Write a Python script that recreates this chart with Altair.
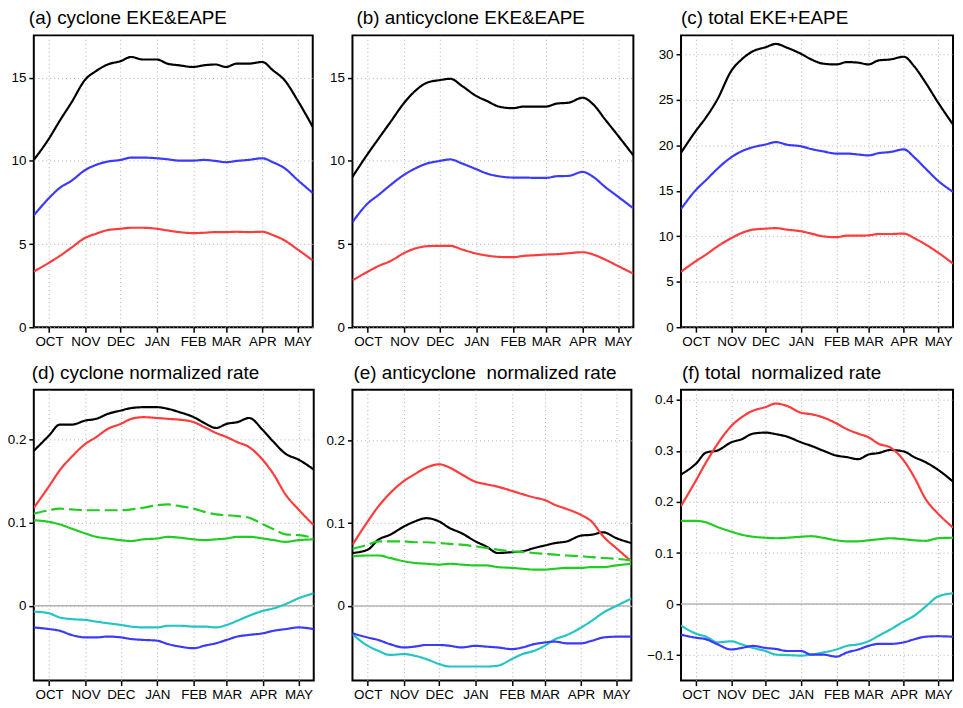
import altair as alt
import pandas as pd

# ---------------- data ----------------
dates = ["2000-09-18", "2000-10-01", "2000-10-10", "2000-10-20", "2000-11-01", "2000-11-10",
         "2000-11-20", "2000-12-01", "2000-12-10", "2000-12-20", "2001-01-01", "2001-01-10",
         "2001-01-20", "2001-02-01", "2001-02-10", "2001-02-20", "2001-03-01", "2001-03-10",
         "2001-03-20", "2001-04-01", "2001-04-10", "2001-04-20", "2001-05-01", "2001-05-14"]

# (a) cyclone EKE&EAPE
a_black = [10.06, 11.35, 12.4, 13.5, 14.9, 15.4, 15.8, 16.0, 16.25, 16.1, 16.1, 15.85, 15.75, 15.65,
           15.75, 15.8, 15.65, 15.85, 15.85, 15.95, 15.45, 14.85, 13.65, 12.05]
a_blue = [6.73, 7.77, 8.37, 8.8, 9.46, 9.76, 9.96, 10.06, 10.2, 10.2, 10.16, 10.1, 10.02, 10.02,
          10.06, 10.0, 9.92, 10.0, 10.06, 10.16, 9.92, 9.56, 8.86, 8.07]
a_red = [3.35, 3.88, 4.28, 4.78, 5.38, 5.62, 5.84, 5.92, 5.98, 5.98, 5.92, 5.82, 5.72, 5.66,
         5.68, 5.72, 5.72, 5.74, 5.72, 5.74, 5.54, 5.22, 4.68, 4.02]

# (b) anticyclone EKE&EAPE
b_black = [9.04, 10.43, 11.33, 12.32, 13.51, 14.2, 14.7, 14.86, 14.94, 14.5, 13.9, 13.6, 13.27, 13.17,
           13.27, 13.27, 13.27, 13.45, 13.5, 13.8, 13.4, 12.5, 11.52, 10.33]
b_blue = [6.32, 7.45, 7.95, 8.54, 9.18, 9.54, 9.84, 10.0, 10.09, 9.84, 9.5, 9.24, 9.08, 9.0,
          9.0, 8.98, 8.98, 9.08, 9.1, 9.34, 9.04, 8.44, 7.85, 7.15]
b_red = [2.82, 3.34, 3.68, 3.97, 4.47, 4.73, 4.87, 4.89, 4.89, 4.67, 4.43, 4.31, 4.23, 4.21,
         4.29, 4.33, 4.37, 4.39, 4.45, 4.51, 4.37, 4.07, 3.68, 3.22]

# (c) total EKE+EAPE
c_black = [19.2, 21.6, 23.1, 25.1, 28.2, 29.45, 30.36, 30.8, 31.16, 30.73, 30.07, 29.45, 29.0, 28.9,
           29.16, 29.1, 28.9, 29.35, 29.45, 29.75, 28.7, 26.9, 24.7, 22.3]
c_blue = [13.0, 15.1, 16.2, 17.45, 18.7, 19.35, 19.8, 20.1, 20.36, 20.07, 19.9, 19.6, 19.35, 19.1,
          19.1, 19.0, 18.9, 19.15, 19.27, 19.56, 18.7, 17.45, 16.1, 14.9]
c_red = [6.1, 7.27, 8.0, 8.9, 9.8, 10.36, 10.73, 10.84, 10.9, 10.73, 10.55, 10.3, 10.0, 9.9,
         10.07, 10.07, 10.1, 10.25, 10.25, 10.3, 9.8, 9.1, 8.2, 7.0]

# (d) cyclone normalized rate
d_black = [0.1865, 0.205, 0.218, 0.218, 0.223, 0.225, 0.231, 0.235, 0.238, 0.239, 0.239, 0.237,
           0.233, 0.227, 0.22, 0.214, 0.219, 0.221, 0.226, 0.211, 0.197, 0.183, 0.176, 0.164]
d_red = [0.118, 0.144, 0.163, 0.179, 0.195, 0.203, 0.213, 0.219, 0.225, 0.227, 0.226, 0.225,
         0.224, 0.221, 0.215, 0.208, 0.203, 0.197, 0.191, 0.175, 0.158, 0.134, 0.116, 0.097]
d_green_dash = [0.111, 0.115, 0.117, 0.116, 0.115, 0.115, 0.115, 0.115, 0.116, 0.118, 0.121, 0.122,
                0.12, 0.117, 0.113, 0.11, 0.109, 0.108, 0.106, 0.098, 0.092, 0.086, 0.085, 0.082]
d_green = [0.103, 0.101, 0.098, 0.093, 0.087, 0.083, 0.081, 0.079, 0.078, 0.08, 0.081, 0.083,
           0.082, 0.08, 0.079, 0.08, 0.081, 0.083, 0.083, 0.081, 0.079, 0.077, 0.079, 0.08]
d_cyan = [-0.007, -0.009, -0.014, -0.016, -0.017, -0.019, -0.021, -0.023, -0.025, -0.026, -0.026, -0.024,
          -0.024, -0.025, -0.025, -0.026, -0.023, -0.018, -0.012, -0.006, -0.003, 0.002, 0.009, 0.015]
d_blue = [-0.026, -0.028, -0.03, -0.035, -0.038, -0.038, -0.037, -0.038, -0.04, -0.041, -0.042, -0.046,
          -0.049, -0.051, -0.048, -0.045, -0.041, -0.037, -0.035, -0.033, -0.03, -0.028, -0.026, -0.028]

# (e) anticyclone normalized rate
e_red = [0.074, 0.102, 0.12, 0.136, 0.151, 0.159, 0.167, 0.171, 0.167, 0.159, 0.15, 0.147,
         0.144, 0.139, 0.135, 0.131, 0.128, 0.122, 0.117, 0.11, 0.102, 0.084, 0.07, 0.054]
e_black = [0.064, 0.068, 0.08, 0.086, 0.096, 0.102, 0.106, 0.102, 0.094, 0.088, 0.078, 0.072,
           0.064, 0.065, 0.066, 0.07, 0.073, 0.076, 0.078, 0.085, 0.086, 0.089, 0.082, 0.076]
e_green_dash = [0.069, 0.074, 0.078, 0.078, 0.078, 0.077, 0.077, 0.076, 0.075, 0.074, 0.072, 0.07,
                0.068, 0.066, 0.065, 0.064, 0.063, 0.062, 0.061, 0.06, 0.059, 0.058, 0.057, 0.055]
e_green = [0.06, 0.061, 0.061, 0.058, 0.054, 0.052, 0.051, 0.05, 0.051, 0.05, 0.049, 0.049,
           0.047, 0.046, 0.045, 0.044, 0.044, 0.045, 0.046, 0.046, 0.047, 0.047, 0.049, 0.051]
e_blue = [-0.033, -0.038, -0.041, -0.046, -0.05, -0.049, -0.047, -0.047, -0.048, -0.05, -0.048, -0.049,
          -0.05, -0.052, -0.05, -0.046, -0.044, -0.043, -0.045, -0.045, -0.042, -0.038, -0.037, -0.037]
e_cyan = [-0.034, -0.048, -0.054, -0.059, -0.058, -0.06, -0.064, -0.07, -0.073, -0.073, -0.073, -0.073,
          -0.072, -0.064, -0.058, -0.054, -0.048, -0.04, -0.035, -0.026, -0.018, -0.008, 0.0, 0.009]

# (f) total normalized rate
f_red = [0.192, 0.242, 0.278, 0.314, 0.349, 0.366, 0.379, 0.386, 0.393, 0.388, 0.375, 0.372,
         0.366, 0.354, 0.343, 0.334, 0.327, 0.314, 0.307, 0.281, 0.249, 0.206, 0.177, 0.15]
f_black = [0.254, 0.275, 0.297, 0.301, 0.317, 0.323, 0.334, 0.336, 0.333, 0.328, 0.317, 0.31,
           0.301, 0.291, 0.288, 0.284, 0.293, 0.296, 0.302, 0.299, 0.288, 0.278, 0.263, 0.24]
f_green = [0.163, 0.163, 0.16, 0.151, 0.142, 0.136, 0.132, 0.13, 0.129, 0.13, 0.132, 0.133,
           0.13, 0.125, 0.123, 0.123, 0.125, 0.127, 0.129, 0.127, 0.125, 0.124, 0.129, 0.13]
f_cyan = [-0.042, -0.058, -0.064, -0.075, -0.073, -0.079, -0.086, -0.092, -0.099, -0.1, -0.101, -0.099,
          -0.095, -0.089, -0.082, -0.079, -0.073, -0.062, -0.05, -0.034, -0.023, -0.005, 0.015, 0.021]
f_blue = [-0.06, -0.066, -0.069, -0.079, -0.089, -0.086, -0.082, -0.086, -0.088, -0.092, -0.092, -0.099,
          -0.099, -0.103, -0.095, -0.089, -0.082, -0.078, -0.078, -0.075, -0.069, -0.064, -0.063, -0.064]

titles = ["(a) cyclone EKE&EAPE", "(b) anticyclone EKE&EAPE", "(c) total EKE+EAPE",
          "(d) cyclone normalized rate", "(e) anticyclone\u00a0 normalized rate",
          "(f) total\u00a0 normalized rate"]

series_names = ["black", "blue", "red", "green", "green_dash", "cyan"]
series_colors = ["#000000", "#3a3aff", "#ff3c3c", "#22cc22", "#22cc22", "#22c4c4"]

FONT = "Liberation Sans"


def make_df(series):
    rows = []
    for name, vals in series.items():
        for d, v in zip(dates, vals):
            rows.append({"date": d, "value": v, "series": name,
                         "style": "dash" if name.endswith("_dash") else "solid"})
    return pd.DataFrame(rows)


x_domain = [alt.DateTime(year=2000, month=9, date=18, utc=True),
            alt.DateTime(year=2001, month=5, date=14, utc=True)]
x_ticks = ([alt.DateTime(year=2000, month=m, date=1, utc=True) for m in (10, 11, 12)] +
           [alt.DateTime(year=2001, month=m, date=1, utc=True) for m in (1, 2, 3, 4, 5)])

axis_style = dict(
    domain=False,
    grid=True, gridColor="#b0b0b0", gridDash=[1, 3], gridWidth=1,
    ticks=True, tickColor="black", tickSize=5, tickWidth=1.5,
    labelFont=FONT, labelFontSize=13.5, labelColor="black",
)


def panel(series, title, ydom, yvals, width, height, dx, zero_line):
    df = make_df(series)
    x = alt.X("date:T", scale=alt.Scale(type="utc", domain=x_domain), title=None,
              axis=alt.Axis(values=x_ticks, labelExpr="upper(utcFormat(datum.value, '%b'))",
                            labelPadding=2, **axis_style))
    y = alt.Y("value:Q", scale=alt.Scale(domain=ydom, nice=False, zero=False), title=None,
              axis=alt.Axis(values=yvals, labelPadding=3,
                            labelExpr="datum.value == 0 ? '0' : format(datum.value, '~g')",
                            **axis_style))
    lines = alt.Chart(df).mark_line(strokeWidth=2.2, interpolate="monotone", clip=True).encode(
        x=x, y=y,
        color=alt.Color("series:N", scale=alt.Scale(domain=series_names, range=series_colors),
                        legend=None),
        strokeDash=alt.StrokeDash("style:N",
                                  scale=alt.Scale(domain=["solid", "dash"], range=[[1, 0], [13, 5]]),
                                  legend=None),
        detail="series:N",
    )
    layers = []
    if zero_line:
        zdf = pd.DataFrame({"value": [0.0]})
        layers.append(alt.Chart(zdf).mark_rule(color="#b4b4b4", strokeWidth=1.5).encode(y="value:Q"))
    layers.append(lines)
    return alt.layer(*layers).properties(
        width=width, height=height,
        title=alt.TitleParams(title, anchor="start", frame="group", dx=dx, fontSize=19, font=FONT,
                              fontWeight="normal", color="black", offset=7),
    )


pa = panel({"black": a_black, "blue": a_blue, "red": a_red}, titles[0],
           [0, 17.55], [0, 5, 10, 15], 281, 294, -5, False)
pb = panel({"black": b_black, "blue": b_blue, "red": b_red}, titles[1],
           [0, 17.55], [0, 5, 10, 15], 283, 294, 4, False)
pc = panel({"black": c_black, "blue": c_blue, "red": c_red}, titles[2],
           [0, 32.1], [0, 5, 10, 15, 20, 25, 30], 274, 294, 0, False)
pd_ = panel({"black": d_black, "red": d_red, "green_dash": d_green_dash, "green": d_green,
             "cyan": d_cyan, "blue": d_blue}, titles[3],
            [-0.09, 0.26], [0, 0.1, 0.2], 282, 293, -2, True)
pe = panel({"black": e_black, "red": e_red, "green_dash": e_green_dash, "green": e_green,
            "cyan": e_cyan, "blue": e_blue}, titles[4],
           [-0.09, 0.261], [0, 0.1, 0.2], 281, 293, 1, True)
pf = panel({"black": f_black, "red": f_red, "green": f_green, "cyan": f_cyan, "blue": f_blue},
           titles[5], [-0.15, 0.42], [-0.1, 0, 0.1, 0.2, 0.3, 0.4], 274, 293, 1, True)

col1 = alt.vconcat(pa, pd_, spacing=63, bounds="flush")
col2 = alt.vconcat(pb, pe, spacing=63, bounds="flush")
col3 = alt.vconcat(pc, pf, spacing=63, bounds="flush")

chart = alt.hconcat(alt.hconcat(col1, col2, spacing=9), col3, spacing=11).properties(
    padding={"left": -2, "top": -2, "right": 0, "bottom": 0},
    background="white",
).configure_view(
    stroke="black", strokeWidth=2
).configure_title(
    font=FONT
)

chart.save("out.html", embed_options={"renderer": "svg", "actions": False})
